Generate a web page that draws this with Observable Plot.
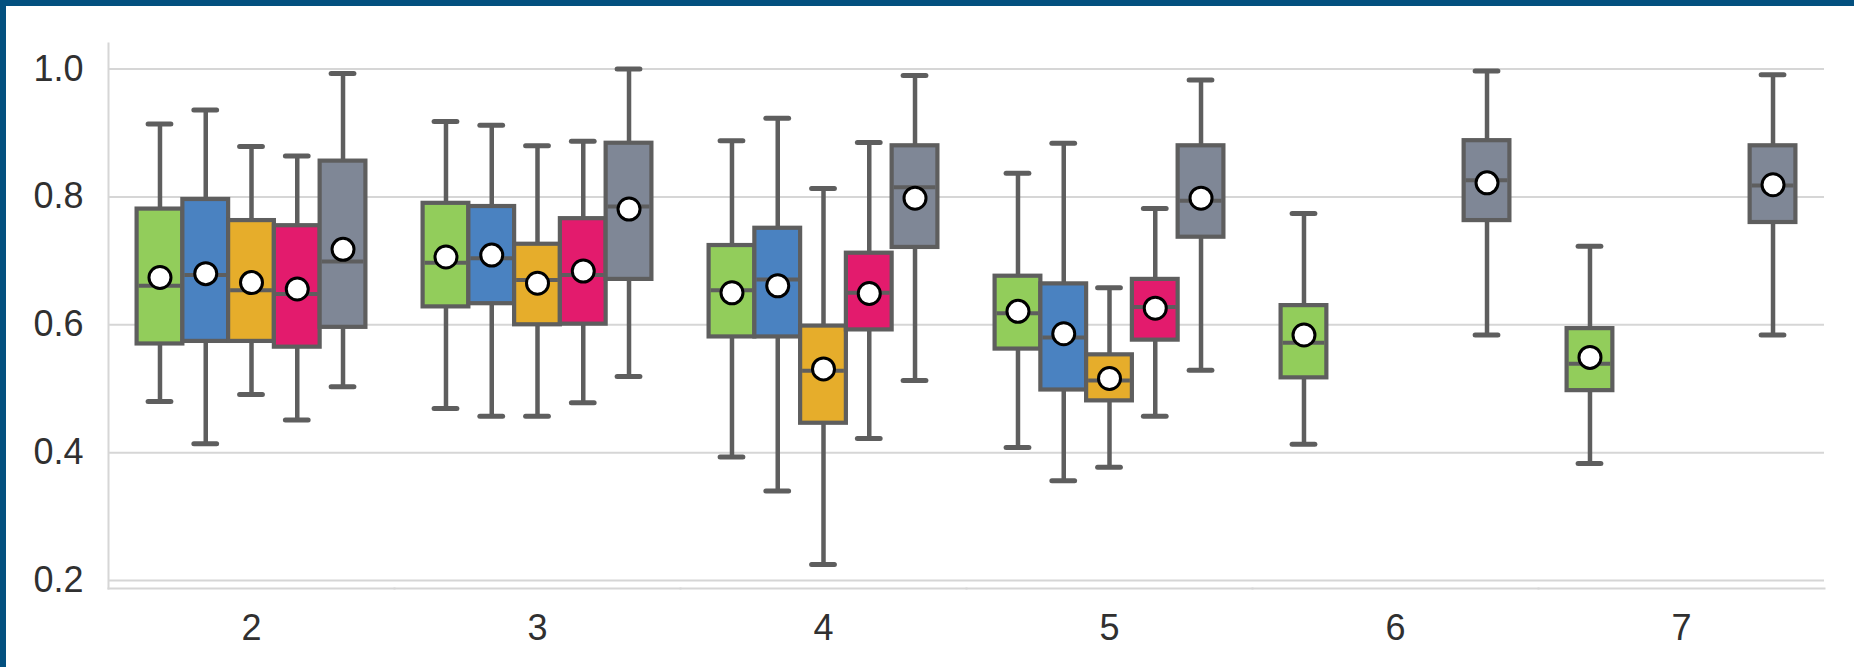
<!DOCTYPE html>
<html><head><meta charset="utf-8">
<script src="https://cdn.jsdelivr.net/npm/d3@7"></script>
<script src="https://cdn.jsdelivr.net/npm/@observablehq/plot@0.6"></script>
<style>
html,body{margin:0;padding:0;background:#fff;}
#wrap{position:relative;width:1854px;height:667px;overflow:hidden;}
#wrap svg{display:block;}
.edge-top{position:absolute;left:0;top:0;width:1854px;height:6px;background:#03507f;}
.edge-left{position:absolute;left:0;top:0;width:6px;height:667px;background:#03507f;}
</style></head><body>
<div id="wrap"></div>
<script>
// Categories on the x axis and the five series (hues)
const categories = ["2", "3", "4", "5", "6", "7"];
const series = ["s1", "s2", "s3", "s4", "s5"];
const seriesColors = ["#92cd5b", "#4a82c1", "#e6ad2b", "#e31b6d", "#7f8796"];
const yTicks = [0.2, 0.4, 0.6, 0.8, 1.0];
const yDomain = [0.1875, 1.04];

// Box statistics: one row per category, one column per series (null = no box)
const whiskerLow = [
  [0.480, 0.414, 0.491, 0.451, 0.503],
  [0.469, 0.457, 0.457, 0.478, 0.519],
  [0.393, 0.340, 0.225, 0.422, 0.513],
  [0.408, 0.356, 0.377, 0.457, 0.529],
  [0.413, null, null, null, 0.584],
  [0.383, null, null, null, 0.584]
];
const quartile1 = [
  [0.570, 0.574, 0.574, 0.565, 0.596],
  [0.628, 0.633, 0.600, 0.601, 0.671],
  [0.581, 0.581, 0.446, 0.592, 0.721],
  [0.562, 0.498, 0.481, 0.576, 0.737],
  [0.517, null, null, null, 0.763],
  [0.497, null, null, null, 0.760]
];
const medians = [
  [0.661, 0.678, 0.654, 0.648, 0.699],
  [0.697, 0.704, 0.670, 0.678, 0.785],
  [0.654, 0.671, 0.528, 0.650, 0.815],
  [0.618, 0.580, 0.513, 0.628, 0.794],
  [0.572, null, null, null, 0.826],
  [0.539, null, null, null, 0.818]
];
const quartile3 = [
  [0.781, 0.796, 0.763, 0.755, 0.856],
  [0.790, 0.785, 0.726, 0.766, 0.884],
  [0.724, 0.751, 0.598, 0.712, 0.880],
  [0.676, 0.664, 0.553, 0.671, 0.880],
  [0.630, null, null, null, 0.888],
  [0.594, null, null, null, 0.880]
];
const whiskerHigh = [
  [0.914, 0.936, 0.879, 0.864, 0.993],
  [0.918, 0.912, 0.880, 0.887, 1.000],
  [0.888, 0.923, 0.813, 0.885, 0.990],
  [0.837, 0.884, 0.658, 0.782, 0.983],
  [0.774, null, null, null, 0.997],
  [0.723, null, null, null, 0.991]
];
const means = [
  [0.674, 0.680, 0.666, 0.656, 0.718],
  [0.706, 0.709, 0.665, 0.684, 0.781],
  [0.650, 0.661, 0.531, 0.649, 0.798],
  [0.621, 0.586, 0.516, 0.626, 0.798],
  [0.584, null, null, null, 0.822],
  [0.549, null, null, null, 0.819]
];

const boxes = [];
categories.forEach((cat, i) => {
  series.forEach((s, j) => {
    if (whiskerLow[i][j] == null) return;
    boxes.push({
      cat, series: s,
      lo: whiskerLow[i][j], q1: quartile1[i][j], median: medians[i][j],
      q3: quartile3[i][j], hi: whiskerHigh[i][j], mean: means[i][j]
    });
  });
});

const edge = "#5e5e5e";
const lineGray = "#d6d6d6";
const textColor = "#303030";

const chart = Plot.plot({
  width: 1854,
  height: 667,
  marginTop: 43,
  marginBottom: 79,
  marginLeft: 106,
  marginRight: 28,
  style: {fontFamily: "'Liberation Sans', Arial, sans-serif", color: textColor, background: "white", overflow: "visible"},
  fx: {domain: categories, padding: 0, label: null, axis: null},
  x: {domain: series, paddingInner: 0, paddingOuter: 0.625, round: false, axis: null},
  y: {domain: yDomain, axis: null},
  color: {domain: series, range: seriesColors},
  marks: [
    Plot.gridY(yTicks, {stroke: lineGray, strokeOpacity: 1, strokeWidth: 2}),
    Plot.frame({anchor: "bottom", stroke: lineGray, strokeOpacity: 1, strokeWidth: 2}),
    Plot.frame({anchor: "left", facetAnchor: "left", stroke: lineGray, strokeOpacity: 1, strokeWidth: 2}),
    Plot.axisY(yTicks, {anchor: "left", tickSize: 0, tickPadding: 25, tickFormat: d3.format(".1f"), fontSize: 36, label: null, fill: textColor}),
    Plot.axisFx({anchor: "bottom", tickSize: 0, tickPadding: 26, fontSize: 36, label: null, fill: textColor}),
    Plot.ruleX(boxes, {fx: "cat", x: "series", y1: "lo", y2: "q1", stroke: edge, strokeWidth: 4.5}),
    Plot.ruleX(boxes, {fx: "cat", x: "series", y1: "q3", y2: "hi", stroke: edge, strokeWidth: 4.5}),
    Plot.tickY(boxes, {fx: "cat", x: "series", y: "lo", stroke: edge, strokeWidth: 5, strokeLinecap: "round", inset: 11.5}),
    Plot.tickY(boxes, {fx: "cat", x: "series", y: "hi", stroke: edge, strokeWidth: 5, strokeLinecap: "round", inset: 11.5}),
    Plot.barY(boxes, {fx: "cat", x: "series", y1: "q1", y2: "q3", fill: "series", stroke: edge, strokeWidth: 4.2}),
    Plot.tickY(boxes, {fx: "cat", x: "series", y: "median", stroke: edge, strokeWidth: 4, inset: 2}),
    Plot.dot(boxes, {fx: "cat", x: "series", y: "mean", r: 11, fill: "white", stroke: "black", strokeWidth: 3})
  ]
});

const wrap = document.getElementById("wrap");
wrap.appendChild(chart);
const t = document.createElement("div"); t.className = "edge-top"; wrap.appendChild(t);
const l = document.createElement("div"); l.className = "edge-left"; wrap.appendChild(l);
</script>
</body></html>
